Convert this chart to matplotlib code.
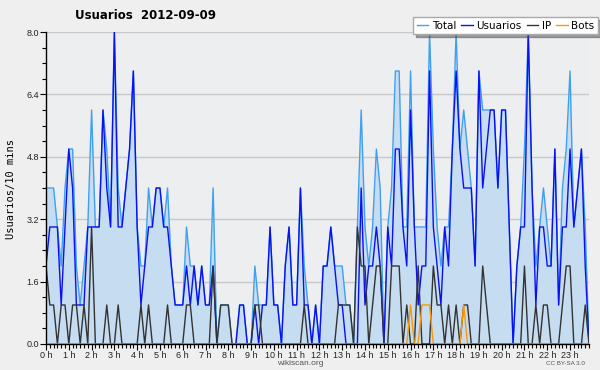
import numpy as np
import matplotlib
matplotlib.use('Agg')
import matplotlib.pyplot as plt
from matplotlib.ticker import MultipleLocator

# users per 10 minutes, 2012-09-09 (144 slots, 0:00 .. 23:50)
usuarios = [2, 3, 3, 3, 1, 3, 5, 4, 1, 1, 1, 3,
            3, 3, 3, 6, 4, 3, 8, 3, 3, 4, 5, 7,
            3, 1, 2, 3, 3, 4, 4, 3, 3, 2, 1, 1,
            1, 2, 1, 2, 1, 2, 1, 1, 2, 0, 0, 0,
            0, 0, 0, 1, 1, 0, 0, 1, 0, 1, 1, 3,
            1, 1, 0, 2, 3, 1, 1, 4, 1, 1, 0, 1,
            0, 2, 2, 3, 2, 1, 1, 0, 0, 0, 0, 4,
            1, 2, 2, 3, 2, 0, 3, 2, 5, 5, 3, 2,
            6, 3, 1, 2, 2, 7, 3, 2, 1, 3, 2, 5,
            7, 5, 4, 4, 4, 2, 7, 4, 5, 6, 6, 4,
            6, 6, 3, 0, 2, 3, 3, 8, 4, 1, 3, 3,
            2, 2, 5, 1, 3, 3, 5, 3, 4, 5, 2, 0]

ip = [2, 1, 1, 0, 1, 1, 0, 1, 1, 0, 1, 0,
      3, 0, 0, 0, 1, 0, 0, 1, 0, 0, 0, 0,
      0, 1, 0, 1, 0, 0, 0, 0, 1, 0, 0, 0,
      0, 1, 1, 0, 0, 0, 0, 0, 2, 0, 1, 1,
      1, 0, 0, 0, 0, 0, 0, 1, 1, 0, 0, 0,
      0, 0, 0, 0, 0, 0, 0, 0, 1, 0, 0, 0,
      0, 0, 0, 0, 0, 1, 1, 1, 1, 0, 3, 2,
      2, 0, 1, 2, 2, 0, 0, 2, 2, 2, 0, 1,
      0, 0, 2, 0, 0, 0, 2, 1, 1, 0, 1, 0,
      1, 0, 1, 1, 0, 0, 0, 2, 1, 0, 0, 0,
      0, 0, 0, 0, 0, 0, 2, 0, 0, 1, 0, 1,
      1, 0, 0, 0, 1, 2, 2, 0, 0, 0, 1, 0]

bots = [0, 0, 0, 0, 0, 0, 0, 0, 0, 0, 0, 0,
        0, 0, 0, 0, 0, 0, 0, 0, 0, 0, 0, 0,
        0, 0, 0, 0, 0, 0, 0, 0, 0, 0, 0, 0,
        0, 0, 0, 0, 0, 0, 0, 0, 0, 0, 0, 0,
        0, 0, 0, 0, 0, 0, 0, 0, 0, 0, 0, 0,
        0, 0, 0, 0, 0, 0, 0, 0, 0, 0, 0, 0,
        0, 0, 0, 0, 0, 0, 0, 0, 0, 0, 0, 0,
        0, 0, 0, 0, 0, 0, 0, 0, 0, 0, 0, 0,
        1, 0, 0, 1, 1, 1, 0, 0, 0, 0, 0, 0,
        0, 0, 1, 0, 0, 0, 0, 0, 0, 0, 0, 0,
        0, 0, 0, 0, 0, 0, 0, 0, 0, 0, 0, 0,
        0, 0, 0, 0, 0, 0, 0, 0, 0, 0, 0, 0]

total = [4, 4, 4, 3, 2, 4, 5, 5, 2, 1, 2, 3,
         6, 3, 3, 6, 5, 3, 8, 4, 3, 4, 5, 7,
         3, 2, 2, 4, 3, 4, 4, 3, 4, 2, 1, 1,
         1, 3, 2, 2, 1, 2, 1, 1, 4, 0, 1, 1,
         1, 0, 0, 1, 1, 0, 0, 2, 1, 1, 1, 3,
         1, 1, 0, 2, 3, 1, 1, 4, 2, 1, 0, 1,
         0, 2, 2, 3, 2, 2, 2, 1, 1, 0, 3, 6,
         3, 2, 3, 5, 4, 0, 3, 4, 7, 7, 3, 3,
         7, 3, 3, 3, 3, 8, 5, 3, 2, 3, 3, 5,
         8, 5, 6, 5, 4, 2, 7, 6, 6, 6, 6, 4,
         6, 6, 3, 0, 2, 3, 5, 8, 4, 2, 3, 4,
         3, 2, 5, 1, 4, 5, 7, 3, 4, 5, 3, 0]

hour_labels = ['%d h' % h for h in range(24)]

x = np.arange(len(total))

fig = plt.figure(figsize=(6, 3.7), dpi=100, facecolor='#efefef')
ax = fig.add_axes([0.0767, 0.0703, 0.905, 0.8432])
ax.set_facecolor('#edeef0')

ax.fill_between(x, total, 0, color='#c6dcf0', lw=0, zorder=1)
l_tot, = ax.plot(x, total, color='#3fa0f2', lw=1.0, zorder=2)
l_usr, = ax.plot(x, usuarios, color='#0a10f5', lw=1.0, zorder=3)
l_ip, = ax.plot(x, ip, color='#333333', lw=1.0, zorder=4)
l_bot, = ax.plot(x, bots, color='#ff9900', lw=1.0, zorder=5)

ax.set_xlim(0, len(total) - 1)
ax.set_ylim(0, 8)

ax.set_yticks([0, 1.6, 3.2, 4.8, 6.4, 8.0])
ax.set_yticklabels(['0.0', '1.6', '3.2', '4.8', '6.4', '8.0'])
ax.yaxis.set_minor_locator(MultipleLocator(0.4))
ax.set_xticks(np.arange(0, 144, 6))
ax.set_xticklabels(hour_labels)
ax.xaxis.set_minor_locator(MultipleLocator(1))
ax.tick_params(axis='both', which='major', labelsize=6.5, length=4,
               width=0.8, pad=1, colors='black', labelcolor='#222222')
ax.tick_params(axis='both', which='minor', length=3, width=0.8)
for lab in ax.get_xticklabels() + ax.get_yticklabels():
    lab.set_family('Liberation Sans')
ax.grid(axis='y', color='#c8c8c8', lw=1.0, zorder=0)
ax.set_axisbelow(True)

for s in ['top', 'right']:
    ax.spines[s].set_visible(False)
for s in ['left', 'bottom']:
    ax.spines[s].set_linewidth(1.0)
    ax.spines[s].set_zorder(6)

fig.text(0.125, 0.957, 'Usuarios  2012-09-09', fontsize=8.5,
         fontweight='bold', va='center', ha='left')
fig.text(0.018, 0.49, 'Usuarios/10 mins', rotation=90, fontsize=7.5,
         family='DejaVu Sans Mono', va='center', ha='center')
fig.text(0.5, 0.017, 'wikiscan.org', fontsize=6, color='#555555',
         ha='center', va='center', family='Liberation Sans')
fig.text(0.942, 0.017, 'CC BY-SA 3.0', fontsize=4.5, color='#555555',
         ha='center', va='center', family='Liberation Sans')

leg = fig.legend([l_tot, l_usr, l_ip, l_bot], ['Total', 'Usuarios', 'IP', 'Bots'],
                 loc='upper right', bbox_to_anchor=(0.997, 0.954), ncol=4,
                 fontsize=7.5, frameon=True, fancybox=False, shadow=True,
                 handlelength=1.1, handletextpad=0.35, columnspacing=0.5,
                 borderpad=0.35, borderaxespad=0)
leg.get_frame().set_edgecolor('#aaaaaa')
leg.get_frame().set_facecolor('white')
leg.get_frame().set_alpha(1.0)

fig.savefig('out.png', dpi=100, facecolor=fig.get_facecolor())
